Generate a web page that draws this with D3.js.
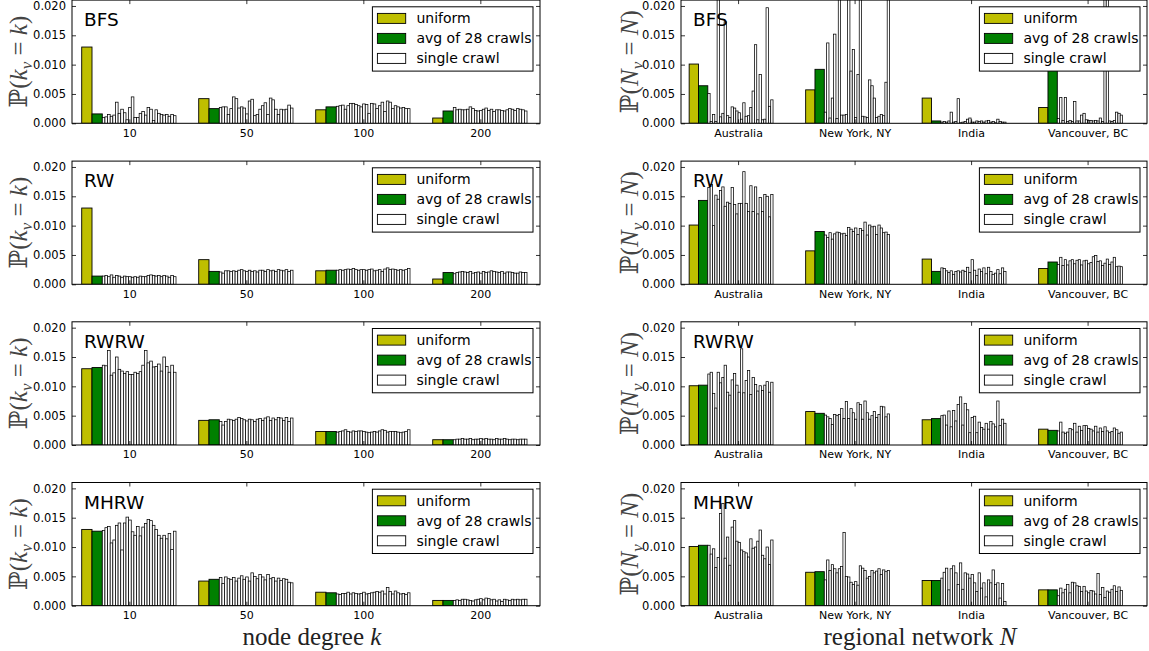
<!DOCTYPE html>
<html><head><meta charset="utf-8">
<script src="https://cdn.jsdelivr.net/npm/d3@7"></script>
<style>body{margin:0;background:#fff} svg{display:block;font-family:"DejaVu Sans",sans-serif}</style>
</head><body><svg id="c" width="1149" height="651"></svg>
<script>
// ---------- DATA (probabilities in units of 1e-3) ----------
const methods = ["BFS", "RW", "RWRW", "MHRW"];
const degreeLabels = ["10", "50", "100", "200"];
const regionLabels = ["Australia", "New York, NY", "India", "Vancouver, BC"];
const yTickValues = [0, 5, 10, 15, 20];
const legendLabels = ["uniform", "avg of 28 crawls", "single crawl"];

const uniformDegree = [13.0, 4.2, 2.3, 0.9];
const uniformRegion = [10.1, 5.7, 4.3, 2.7];

const avgDegreeBFS = [1.6, 2.5, 2.8, 2.1];
const avgDegreeRW = [1.4, 2.2, 2.4, 2.0];
const avgDegreeRWRW = [13.2, 4.3, 2.3, 0.9];
const avgDegreeMHRW = [12.7, 4.5, 2.2, 0.9];
const avgRegionBFS = [6.4, 9.2, 0.4, 11.0];
const avgRegionRW = [14.3, 9.0, 2.2, 3.8];
const avgRegionRWRW = [10.2, 5.4, 4.5, 2.5];
const avgRegionMHRW = [10.3, 5.8, 4.3, 2.7];

const singlesDegreeBFS = [
  [1.0, 1.1, 1.5, 1.2, 1.4, 3.6, 1.7, 2.4, 1.8, 0.6, 2.7, 4.5, 1.0, 1.0, 1.7, 2.0, 1.4, 2.7, 2.4, 0.5, 2.3, 1.7, 1.5, 1.4, 1.5, 1.2, 1.5, 1.3],
  [2.7, 2.8, 2.8, 1.5, 2.5, 4.5, 4.2, 2.6, 2.8, 2.6, 1.6, 3.8, 4.1, 1.3, 1.5, 2.4, 3.0, 3.5, 1.5, 4.3, 4.0, 2.4, 1.5, 2.4, 2.3, 2.4, 3.1, 2.6],
  [2.9, 3.0, 3.1, 2.4, 3.0, 3.4, 3.4, 3.2, 3.0, 2.8, 3.3, 3.2, 1.7, 3.4, 3.3, 2.5, 3.0, 3.6, 2.0, 3.8, 3.6, 2.5, 3.0, 2.8, 2.6, 2.7, 2.5, 2.5],
  [2.7, 2.3, 2.4, 2.3, 2.3, 2.4, 2.8, 2.5, 2.2, 2.1, 2.2, 2.4, 2.6, 2.2, 2.4, 2.0, 2.3, 2.3, 2.2, 2.1, 2.3, 2.5, 2.4, 2.2, 2.5, 2.4, 2.3, 2.1]
];
const singlesDegreeRW = [
  [1.4, 1.5, 1.3, 1.6, 1.2, 1.5, 1.4, 1.2, 1.4, 1.3, 1.3, 1.2, 1.3, 1.2, 1.4, 1.3, 1.3, 1.5, 1.6, 1.5, 1.4, 1.5, 1.3, 1.5, 1.4, 1.2, 1.5, 1.3],
  [2.1, 1.9, 2.3, 2.3, 2.2, 2.3, 2.2, 2.4, 2.5, 2.3, 2.2, 2.4, 2.2, 2.3, 2.1, 2.4, 2.4, 2.2, 2.5, 2.3, 2.4, 2.2, 2.5, 2.4, 2.3, 2.5, 2.2, 2.4],
  [2.4, 2.5, 2.4, 2.5, 2.6, 2.5, 2.7, 2.5, 2.4, 2.5, 2.5, 2.4, 2.5, 2.6, 2.3, 2.4, 2.5, 2.2, 2.6, 2.8, 2.5, 2.6, 2.5, 2.4, 2.5, 2.4, 2.5, 2.7],
  [1.8, 2.0, 2.1, 2.2, 2.1, 2.0, 2.2, 1.9, 2.0, 2.1, 1.9, 2.2, 2.0, 2.1, 2.3, 2.2, 2.1, 2.0, 2.2, 1.9, 2.1, 2.1, 2.0, 1.9, 1.9, 2.1, 2.0, 2.0]
];
const singlesDegreeRWRW = [
  [13.6, 13.5, 16.1, 11.9, 12.3, 15.0, 12.9, 12.6, 12.2, 12.5, 12.0, 12.0, 12.4, 12.2, 12.5, 13.6, 16.1, 14.0, 14.3, 13.3, 13.4, 13.8, 12.6, 15.0, 13.4, 12.4, 13.6, 12.4],
  [4.0, 3.4, 4.0, 4.4, 4.3, 4.2, 4.4, 4.7, 4.5, 4.3, 4.1, 4.4, 4.3, 4.0, 4.4, 4.5, 4.2, 4.6, 4.8, 4.2, 4.6, 4.3, 4.7, 4.6, 4.2, 4.7, 4.0, 4.6],
  [2.2, 2.3, 2.4, 2.6, 2.3, 2.2, 2.4, 2.3, 2.4, 2.4, 2.3, 2.2, 2.1, 2.2, 2.3, 2.2, 2.4, 2.6, 2.5, 2.2, 2.3, 2.3, 2.3, 2.2, 2.1, 2.2, 2.3, 2.6],
  [0.9, 1.0, 1.0, 1.1, 1.0, 1.0, 1.1, 0.9, 1.0, 1.0, 1.1, 1.0, 1.1, 1.0, 1.0, 0.9, 1.1, 1.0, 1.0, 1.1, 1.0, 0.9, 1.0, 1.0, 0.9, 1.0, 1.0, 1.0]
];
const singlesDegreeMHRW = [
  [12.8, 13.3, 13.5, 10.7, 11.2, 13.7, 14.1, 9.5, 14.1, 15.1, 14.6, 12.6, 12.0, 13.5, 11.9, 13.4, 14.0, 14.7, 14.5, 13.7, 13.0, 12.0, 11.5, 12.0, 11.4, 12.3, 9.6, 12.7],
  [4.8, 3.8, 4.9, 4.6, 4.5, 4.8, 4.2, 4.7, 5.1, 4.5, 4.9, 4.2, 5.6, 5.0, 4.6, 5.3, 4.9, 4.4, 5.3, 4.6, 4.8, 4.2, 4.7, 4.3, 4.6, 4.5, 4.0, 3.9],
  [2.0, 1.9, 2.1, 2.1, 2.3, 2.0, 2.2, 2.1, 2.0, 2.1, 2.3, 2.0, 2.1, 2.2, 2.3, 2.4, 2.3, 2.5, 2.0, 3.1, 2.4, 2.0, 2.5, 2.2, 2.0, 2.1, 1.9, 2.2],
  [0.9, 1.0, 0.9, 1.1, 1.1, 1.0, 0.9, 0.8, 1.0, 1.1, 1.2, 1.0, 1.3, 1.2, 1.0, 1.1, 0.8, 1.0, 0.7, 1.1, 1.0, 0.9, 1.1, 1.0, 1.1, 1.0, 1.1, 1.1]
];
const singlesRegionBFS = [
  [5.1, 0.3, 1.5, 0.3, 30.0, 1.1, 1.7, 17.3, 1.3, 1.0, 2.8, 2.6, 2.1, 1.8, 0.7, 3.5, 1.2, 1.3, 2.7, 5.5, 13.4, 0.6, 8.3, 0.6, 0.7, 19.7, 2.9, 4.0],
  [1.9, 13.7, 0.9, 4.3, 15.2, 0.8, 30.0, 1.4, 1.4, 1.5, 30.0, 8.9, 12.6, 1.0, 8.3, 30.0, 1.2, 1.1, 1.0, 7.4, 6.4, 4.3, 1.0, 1.2, 1.5, 1.3, 7.0, 30.0],
  [0.2, 0.3, 0.2, 0.4, 1.9, 0.2, 0.3, 4.2, 0.1, 0.2, 0.3, 0.7, 0.9, 0.2, 0.2, 0.4, 0.3, 0.4, 0.2, 0.4, 0.5, 0.2, 0.3, 0.1, 0.7, 0.3, 0.2, 0.2],
  [0.8, 4.4, 0.5, 4.4, 0.3, 0.5, 0.3, 3.7, 0.4, 0.4, 1.4, 1.7, 0.6, 0.5, 0.5, 0.4, 0.5, 0.4, 0.9, 0.3, 30.0, 30.0, 0.4, 0.3, 0.5, 1.9, 1.7, 1.4]
];
const singlesRegionRW = [
  [16.5, 17.0, 10.0, 15.2, 14.5, 16.0, 16.6, 13.3, 14.0, 13.8, 16.5, 13.6, 12.0, 13.8, 13.8, 19.2, 13.8, 12.4, 16.8, 12.4, 16.6, 12.0, 14.8, 12.4, 15.3, 15.0, 11.5, 15.3],
  [8.4, 8.0, 8.8, 7.7, 8.6, 8.9, 8.8, 8.6, 8.7, 8.3, 9.7, 9.4, 9.0, 9.6, 8.5, 9.5, 9.2, 10.6, 8.4, 10.1, 9.8, 9.9, 8.5, 10.1, 9.6, 8.8, 8.9, 8.5],
  [2.8, 2.7, 2.3, 2.0, 2.3, 1.7, 2.2, 2.3, 2.1, 2.4, 2.2, 2.9, 2.0, 4.2, 2.4, 1.5, 2.6, 2.2, 2.8, 1.8, 2.9, 2.2, 1.7, 1.9, 2.5, 1.8, 2.8, 2.2],
  [3.4, 4.6, 3.2, 4.2, 3.3, 4.0, 4.2, 3.5, 4.1, 4.2, 3.3, 4.0, 4.1, 3.5, 3.7, 4.7, 4.9, 3.9, 4.0, 3.2, 3.6, 4.3, 3.4, 3.8, 4.6, 3.0, 3.1, 3.0]
];
const singlesRegionRWRW = [
  [12.1, 12.4, 8.8, 6.3, 12.4, 10.6, 11.5, 13.6, 9.0, 8.5, 11.1, 12.2, 10.2, 9.0, 16.4, 8.9, 11.0, 12.7, 8.6, 11.5, 10.3, 9.2, 10.1, 9.3, 10.2, 10.8, 9.0, 10.7],
  [5.1, 4.8, 4.5, 3.5, 5.2, 5.0, 5.2, 6.2, 4.5, 7.4, 4.5, 6.2, 5.5, 4.4, 7.2, 6.9, 4.4, 7.5, 5.5, 4.4, 5.0, 5.7, 4.7, 5.2, 6.6, 6.5, 4.8, 5.3],
  [5.0, 5.1, 3.4, 5.8, 3.1, 5.9, 4.1, 6.9, 8.2, 3.4, 7.1, 6.0, 2.1, 4.7, 4.9, 2.1, 3.9, 3.0, 2.7, 3.7, 2.7, 4.0, 3.6, 3.1, 7.5, 3.3, 4.4, 3.7],
  [2.4, 3.9, 2.2, 2.0, 2.2, 2.8, 2.6, 3.7, 2.2, 3.2, 2.5, 3.3, 3.3, 2.8, 2.7, 2.4, 3.2, 2.2, 2.9, 2.3, 3.1, 2.4, 2.1, 2.3, 2.9, 2.6, 2.0, 2.2]
];
const singlesRegionMHRW = [
  [10.3, 8.8, 9.7, 6.5, 8.2, 15.7, 17.4, 8.1, 11.7, 6.9, 13.4, 14.5, 11.0, 10.8, 9.5, 9.2, 9.0, 8.3, 11.4, 9.8, 10.0, 11.0, 12.9, 8.6, 8.0, 10.0, 7.0, 11.2],
  [4.4, 7.8, 6.0, 7.0, 6.3, 5.6, 6.3, 6.7, 12.5, 5.0, 4.9, 4.0, 3.6, 4.1, 3.5, 6.8, 6.4, 6.0, 4.7, 5.0, 6.0, 5.6, 5.9, 6.3, 5.3, 6.1, 5.8, 6.0],
  [4.7, 5.7, 6.4, 2.7, 6.3, 6.8, 5.6, 3.6, 7.3, 2.8, 5.6, 5.4, 4.7, 5.3, 3.9, 2.4, 5.6, 3.0, 3.9, 1.5, 4.4, 3.9, 6.1, 3.6, 3.9, 1.3, 3.8, 0.7],
  [1.7, 3.0, 2.2, 2.8, 3.6, 2.2, 4.0, 3.9, 3.4, 3.3, 2.4, 3.3, 2.5, 2.2, 2.6, 2.5, 2.0, 5.5, 1.9, 3.1, 1.4, 2.5, 2.3, 2.8, 3.4, 2.4, 3.2, 2.6]
];

const avgDegree = [avgDegreeBFS, avgDegreeRW, avgDegreeRWRW, avgDegreeMHRW];
const avgRegion = [avgRegionBFS, avgRegionRW, avgRegionRWRW, avgRegionMHRW];
const singlesDegree = [singlesDegreeBFS, singlesDegreeRW, singlesDegreeRWRW, singlesDegreeMHRW];
const singlesRegion = [singlesRegionBFS, singlesRegionRW, singlesRegionRWRW, singlesRegionMHRW];

// ---------- STYLE / LAYOUT ----------
const colUniform = "#bfbf00", colAvg = "#008000", colSingle = "#ffffff";
const svg = d3.select("#c");
const rowTops = [0.1, 161.1, 321.8, 482.5];
const panelH = 123.2;
const columns = [
  {x0: 72, w: 468, start: 0.083, bw: 0.088, sw: 0.0225, labels: degreeLabels, uniform: uniformDegree,
   avg: avgDegree, singles: singlesDegree, sym: "k", ylabX: 27, xtitle: "node degree ", xsym: "k"},
  {x0: 681, w: 466, start: 0.07, bw: 0.08, sw: 0.02, labels: regionLabels, uniform: uniformRegion,
   avg: avgRegion, singles: singlesRegion, sym: "N", ylabX: 638, xtitle: "regional network ", xsym: "N"}
];
const tickPos = [0.49, 1.49, 2.49, 3.49];
const defs = svg.append("defs");

columns.forEach((col, ci) => {
  methods.forEach((m, ri) => {
    const top = rowTops[ri], bottom = top + panelH;
    const x = d3.scaleLinear().domain([0, 4]).range([col.x0, col.x0 + col.w]);
    const y = d3.scaleLinear().domain([0, 21]).range([bottom, top]);
    const g = svg.append("g");
    const cid = `clip-${ci}-${ri}`;
    defs.append("clipPath").attr("id", cid).append("rect")
      .attr("x", col.x0).attr("y", top).attr("width", col.w).attr("height", panelH);

    const bars = [];
    col.labels.forEach((lab, gi) => {
      const s = gi + col.start;
      bars.push({x: s, w: col.bw, v: col.uniform[gi], fill: colUniform, big: true});
      bars.push({x: s + col.bw, w: col.bw, v: col.avg[ri][gi], fill: colAvg, big: true});
      col.singles[ri][gi].forEach((v, j) => {
        bars.push({x: s + 2 * col.bw + j * col.sw, w: col.sw, v: v, fill: colSingle, big: false});
      });
    });
    g.append("g").attr("clip-path", `url(#${cid})`).selectAll("rect").data(bars).join("rect")
      .attr("x", d => x(d.x)).attr("width", d => x(d.x + d.w) - x(d.x))
      .attr("y", d => y(d.v)).attr("height", d => y(0) - y(d.v))
      .attr("fill", d => d.fill).attr("stroke", "#000")
      .attr("stroke-width", d => d.big ? 0.9 : 0.75);

    // axes
    const ax = g.append("g").attr("class", "axes");
    const yl = ax.append("g").attr("transform", `translate(${col.x0},0)`)
      .call(d3.axisLeft(y).tickValues(yTickValues).tickSizeInner(-4).tickSizeOuter(0).tickPadding(6)
        .tickFormat(d => (d / 1000).toFixed(3)));
    ax.append("g").attr("transform", `translate(${col.x0 + col.w},0)`)
      .call(d3.axisRight(y).tickValues(yTickValues).tickSizeInner(-4).tickSizeOuter(0).tickFormat(""));
    const xb = ax.append("g").attr("transform", `translate(0,${bottom})`)
      .call(d3.axisBottom(x).tickValues(tickPos).tickSizeInner(-4).tickSizeOuter(0).tickPadding(5.5)
        .tickFormat((d, i) => col.labels[i]));
    ax.append("g").attr("transform", `translate(0,${top})`)
      .call(d3.axisTop(x).tickValues(tickPos).tickSizeInner(-4).tickSizeOuter(0).tickFormat(""));
    ax.selectAll(".domain").remove();
    ax.selectAll(".tick line").attr("stroke", "#000").attr("stroke-width", 0.8);
    yl.selectAll("text").attr("font-size", 11.5).attr("fill", "#000").attr("font-family", "DejaVu Sans");
    xb.selectAll("text").attr("font-size", 11).attr("fill", "#000").attr("font-family", "DejaVu Sans");
    g.append("rect").attr("x", col.x0).attr("y", top).attr("width", col.w).attr("height", panelH)
      .attr("fill", "none").attr("stroke", "#000").attr("stroke-width", 1);

    // title
    g.append("text").attr("x", col.x0 + 12).attr("y", top + 26).attr("font-size", 18.5)
      .attr("fill", "#000").text(m);

    // legend
    const lw = 160.6, lh = 64.3;
    const lx = col.x0 + col.w - 7 - lw, ly = top + 6.7;
    const lg = g.append("g");
    lg.append("rect").attr("x", lx).attr("y", ly).attr("width", lw).attr("height", lh)
      .attr("fill", "#fff").attr("stroke", "#000").attr("stroke-width", 1);
    const lfills = [colUniform, colAvg, colSingle];
    legendLabels.forEach((t, i) => {
      lg.append("rect").attr("x", lx + 5).attr("y", ly + 6.6 + 20 * i).attr("width", 28.3).attr("height", 10)
        .attr("fill", lfills[i]).attr("stroke", "#000").attr("stroke-width", 0.9);
      lg.append("text").attr("x", lx + 44).attr("y", ly + 16.6 + 20 * i).attr("font-size", 14)
        .attr("fill", "#000").text(t);
    });

    // y label
    const cy = (top + bottom) / 2;
    const ylab = g.append("text").attr("transform", `translate(${col.ylabX},${cy}) rotate(-90)`)
      .attr("text-anchor", "middle").attr("font-family", "'Liberation Serif', 'DejaVu Serif', serif")
      .attr("font-size", 25).attr("fill", "#444");
    ylab.append("tspan").text("\u2119(");
    ylab.append("tspan").attr("font-style", "italic").text(col.sym);
    ylab.append("tspan").attr("font-style", "italic").attr("font-size", 17).attr("dy", 5).text("v");
    ylab.append("tspan").attr("dy", -5).text(" = ");
    ylab.append("tspan").attr("font-style", "italic").text(col.sym);
    ylab.append("tspan").text(")");
  });
  // x title
  const xt = svg.append("text").attr("x", col.x0 + col.w / 2 + 6).attr("y", 644.5)
    .attr("text-anchor", "middle").attr("font-family", "'Liberation Serif', 'DejaVu Serif', serif")
    .attr("font-size", 25).attr("fill", "#222");
  xt.append("tspan").text(col.xtitle);
  xt.append("tspan").attr("font-style", "italic").text(col.xsym);
});
</script></body></html>
